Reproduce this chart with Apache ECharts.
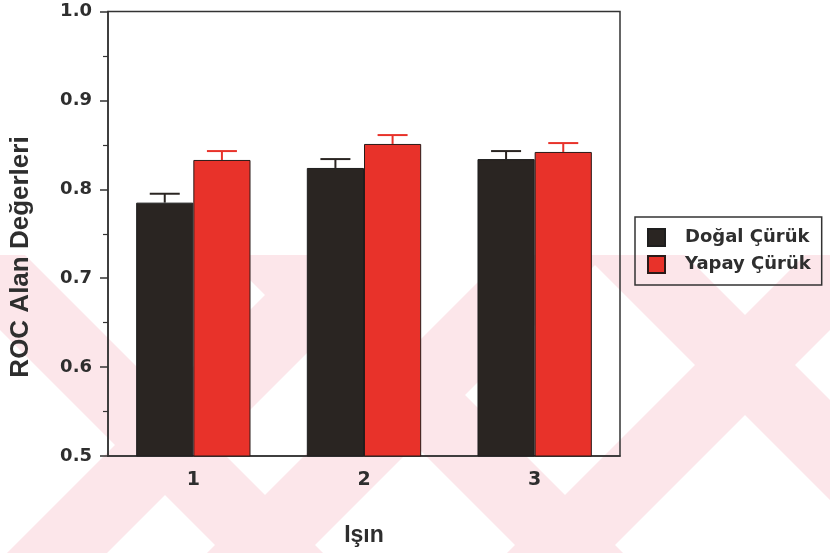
<!DOCTYPE html>
<html>
<head>
<meta charset="utf-8">
<script src="https://cdn.jsdelivr.net/npm/echarts@6/dist/echarts.min.js"></script>
<style>
  html, body { margin: 0; padding: 0; background: #ffffff; }
  #chart { width: 830px; height: 553px; }
</style>
</head>
<body>
<div id="chart"></div>
<script>
// Categories (Işın) and ROC area values with their standard errors
const categories = ['1', '2', '3'];
const seriesNames = ['Doğal Çürük', 'Yapay Çürük'];
const dogalValues = [0.785, 0.824, 0.834];
const dogalErrors = [0.010, 0.010, 0.009];
const yapayValues = [0.833, 0.851, 0.842];
const yapayErrors = [0.010, 0.010, 0.010];
const yTicks = { min: 0.5, max: 1.0, interval: 0.1 };
const yTitle = 'ROC Alan Değerleri';
const xTitle = 'Işın';

const darkColor = '#2a2522';
const redColor = '#e8322a';
const textColor = '#2e2e2e';
const gothic = '"DejaVu Sans", "Noto Sans", sans-serif';
const arial = '"Liberation Sans", Arial, sans-serif';

const chart = echarts.init(document.getElementById('chart'), null, { renderer: 'canvas' });

// Faint diagonal background bands (page decoration behind the plot)
const bandTop = 255, bandBottom = 553, pink = '#fce6ea';
function upBand(c1, c2) {
  return { type: 'polygon', z: -10, silent: true,
    shape: { points: [[c1 - bandTop, bandTop], [c2 - bandTop, bandTop], [c2 - bandBottom, bandBottom], [c1 - bandBottom, bandBottom]] },
    style: { fill: pink } };
}
function downBand(c1, c2) {
  return { type: 'polygon', z: -10, silent: true,
    shape: { points: [[c1 + bandTop, bandTop], [c2 + bandTop, bandTop], [c2 + bandBottom, bandBottom], [c1 + bandBottom, bandBottom]] },
    style: { fill: pink } };
}
const decorations = [
  upBand(560, 660), upBand(760, 860), upBand(1060, 1160),
  downBand(-330, -230), downBand(-30, 70), downBand(330, 430),
  // vertical axis title, set slightly below the plot centre
  {
    type: 'text', z: 10, silent: true,
    x: 21, y: 257, rotation: Math.PI / 2,
    style: {
      text: yTitle, fill: textColor, align: 'center', verticalAlign: 'middle',
      font: 'bold 26px ' + arial
    }
  }
];

// Error bar renderer: whisker upward from each bar top with a cap
function errorSeries(values, errors, side, color) {
  return {
    type: 'custom',
    name: side < 0 ? seriesNames[0] + ' SE' : seriesNames[1] + ' SE',
    z: 1,
    silent: true,
    data: values.map((v, i) => [i, v, v + errors[i]]),
    renderItem: function (params, api) {
      const idx = api.value(0);
      const base = api.coord([idx, api.value(1)]);
      const top = api.coord([idx, api.value(2)]);
      const catWidth = api.size([1, 0])[0];
      const barW = catWidth * (1 - 0.33) / 2;
      const x = base[0] + side * barW / 2;
      const capHalf = 15;
      return {
        type: 'group',
        children: [
          { type: 'line', shape: { x1: x, y1: base[1], x2: x, y2: top[1] }, style: { stroke: color, lineWidth: 2 } },
          { type: 'line', shape: { x1: x - capHalf, y1: top[1], x2: x + capHalf, y2: top[1] }, style: { stroke: color, lineWidth: 2 } }
        ]
      };
    }
  };
}

const option = {
  animation: false,
  backgroundColor: '#ffffff',
  graphic: decorations,
  grid: {
    left: 108, right: 210, top: 11.5, bottom: 97,
    show: true, borderColor: '#333333', borderWidth: 1.5, backgroundColor: 'transparent'
  },
  legend: {
    orient: 'vertical',
    left: 635, top: 217,
    itemWidth: 17, itemHeight: 17, itemGap: 8,
    padding: [11, 11, 11, 12],
    borderColor: '#333333', borderWidth: 1.5,
    icon: 'rect',
    data: seriesNames,
    textStyle: { fontFamily: gothic, fontSize: 18, fontWeight: 'bold', color: textColor, padding: [0, 0, 0, 15] }
  },
  xAxis: {
    type: 'category',
    data: categories,
    name: xTitle,
    nameLocation: 'middle',
    nameGap: 68,
    nameTextStyle: { fontFamily: arial, fontSize: 23, fontWeight: 'bold', color: textColor },
    axisLine: { lineStyle: { color: '#333333', width: 1.5 } },
    axisTick: { length: 5, lineStyle: { color: '#333333', width: 1.5 } },
    axisLabel: { margin: 15, fontFamily: gothic, fontSize: 19, fontWeight: 'bold', color: textColor }
  },
  yAxis: {
    type: 'value',
    min: yTicks.min, max: yTicks.max, interval: yTicks.interval,
    axisLine: { show: true, lineStyle: { color: '#333333', width: 1.5 } },
    axisTick: { show: true, length: 8, lineStyle: { color: '#333333', width: 1.5 } },
    minorTick: { show: true, splitNumber: 2, length: 5, lineStyle: { color: '#333333', width: 1.2 } },
    splitLine: { show: false },
    axisLabel: {
      margin: 16, fontFamily: gothic, fontSize: 18, fontWeight: 'bold', color: textColor,
      formatter: v => v.toFixed(1)
    }
  },
  series: [
    {
      type: 'bar', name: seriesNames[0], data: dogalValues,
      barGap: '0%', barCategoryGap: '33%',
      itemStyle: { color: darkColor, borderColor: '#1e1e1e', borderWidth: 1 }
    },
    {
      type: 'bar', name: seriesNames[1], data: yapayValues,
      barGap: '0%', barCategoryGap: '33%',
      itemStyle: { color: redColor, borderColor: '#2a1a18', borderWidth: 1 }
    },
    errorSeries(dogalValues, dogalErrors, -1, darkColor),
    errorSeries(yapayValues, yapayErrors, 1, redColor)
  ]
};

chart.setOption(option);
</script>
</body>
</html>
